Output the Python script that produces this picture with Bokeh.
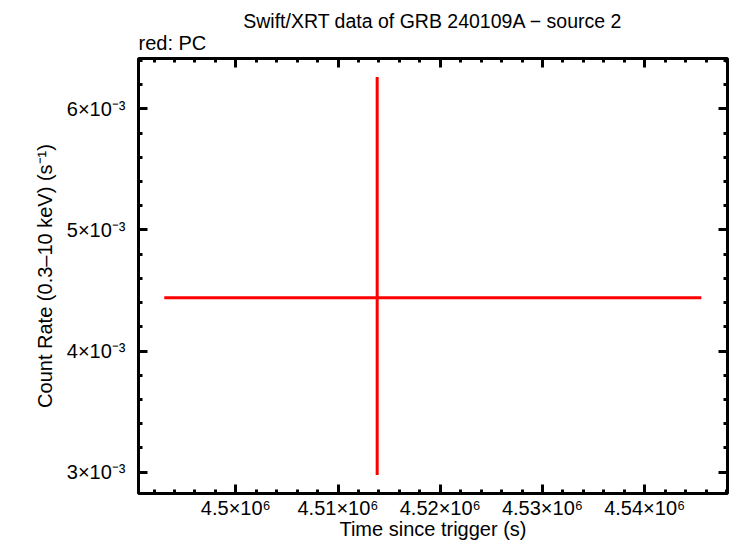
from bokeh.plotting import figure
from bokeh.models import Range1d, LinearAxis, FixedTicker, Title, ColumnDataSource
from bokeh.embed import file_html
from bokeh.resources import INLINE

# ---- data ----
t = [4513830]
t_start = [4493000]
t_stop = [4545540]
rate = [0.00444]
rate_lo = [0.002976]
rate_hi = [0.006264]

x_major = [4500000, 4510000, 4520000, 4530000, 4540000]
x_labels = ["4.5×10⁶", "4.51×10⁶", "4.52×10⁶", "4.53×10⁶", "4.54×10⁶"]
y_major = [0.003, 0.004, 0.005, 0.006]
y_labels = ["3×10⁻³", "4×10⁻³", "5×10⁻³", "6×10⁻³"]

x_minor = [4490000 + 2000 * i for i in range(30)]
y_minor = [round(0.0028 + 0.0002 * i, 6) for i in range(19)]

FONT = "Liberation Sans"
FS = "20px"

src = ColumnDataSource(dict(t=t, t_start=t_start, t_stop=t_stop,
                            rate=rate, rate_lo=rate_lo, rate_hi=rate_hi))

p = figure(width=730, height=542, output_backend="svg", toolbar_location=None,
           x_range=Range1d(4490480, 4548100), y_range=Range1d(0.002824, 0.006416),
           title_location=None, x_axis_location=None, y_axis_location=None,
           min_border_left=138, min_border_right=3, min_border_top=58, min_border_bottom=0)
p.background_fill_color = "white"
p.border_fill_color = "white"
p.xgrid.visible = False
p.ygrid.visible = False
p.outline_line_color = "black"
p.outline_line_width = 3

def style(ax, labels=True):
    ax.axis_line_color = None
    ax.major_tick_in = 9
    ax.major_tick_out = 0
    ax.minor_tick_in = 4
    ax.minor_tick_out = 0
    ax.major_tick_line_width = 3
    ax.minor_tick_line_width = 3
    ax.major_tick_line_color = "black"
    ax.minor_tick_line_color = "black"
    ax.major_label_text_font = FONT
    ax.major_label_text_color = "black"
    ax.axis_label_text_font = FONT
    ax.axis_label_text_font_style = "normal"
    ax.axis_label_text_color = "black"
    ax.axis_label_text_font_size = FS
    if labels:
        ax.major_label_text_font_size = FS
    else:
        ax.major_label_text_font_size = "0px"
        ax.major_label_standoff = 0

xt = FixedTicker(ticks=x_major, minor_ticks=x_minor)
yt = FixedTicker(ticks=y_major, minor_ticks=y_minor)

xb = LinearAxis(ticker=xt, axis_label="Time since trigger (s)")
xb.major_label_overrides = dict(zip(x_major, x_labels))
style(xb)
xb.major_label_standoff = 3
xb.axis_label_standoff = -4
p.add_layout(xb, "below")

yl = LinearAxis(ticker=yt, axis_label="Count Rate (0.3–10 keV) (s⁻¹)")
yl.major_label_overrides = dict(zip(y_major, y_labels))
style(yl)
yl.major_label_standoff = 13
yl.axis_label_standoff = 8
p.add_layout(yl, "left")

xa = LinearAxis(ticker=xt)
style(xa, labels=False)
p.add_layout(xa, "above")

yr = LinearAxis(ticker=yt)
style(yr, labels=False)
p.add_layout(yr, "right")

p.add_layout(Title(text="red: PC", align="left", text_font=FONT, text_font_size=FS,
                   text_font_style="normal", text_color="black", standoff=9), "above")
p.add_layout(Title(text="Swift/XRT data of GRB 240109A − source 2", align="center",
                   text_font=FONT, text_font_size="19.5px", text_font_style="normal",
                   text_color="black", standoff=-12), "above")

p.segment(x0="t_start", y0="rate", x1="t_stop", y1="rate", source=src,
          line_color="#ff0000", line_width=3, line_cap="butt")
p.segment(x0="t", y0="rate_lo", x1="t", y1="rate_hi", source=src,
          line_color="#ff0000", line_width=3, line_cap="butt")

open("out.html", "w").write(file_html(p, INLINE))
